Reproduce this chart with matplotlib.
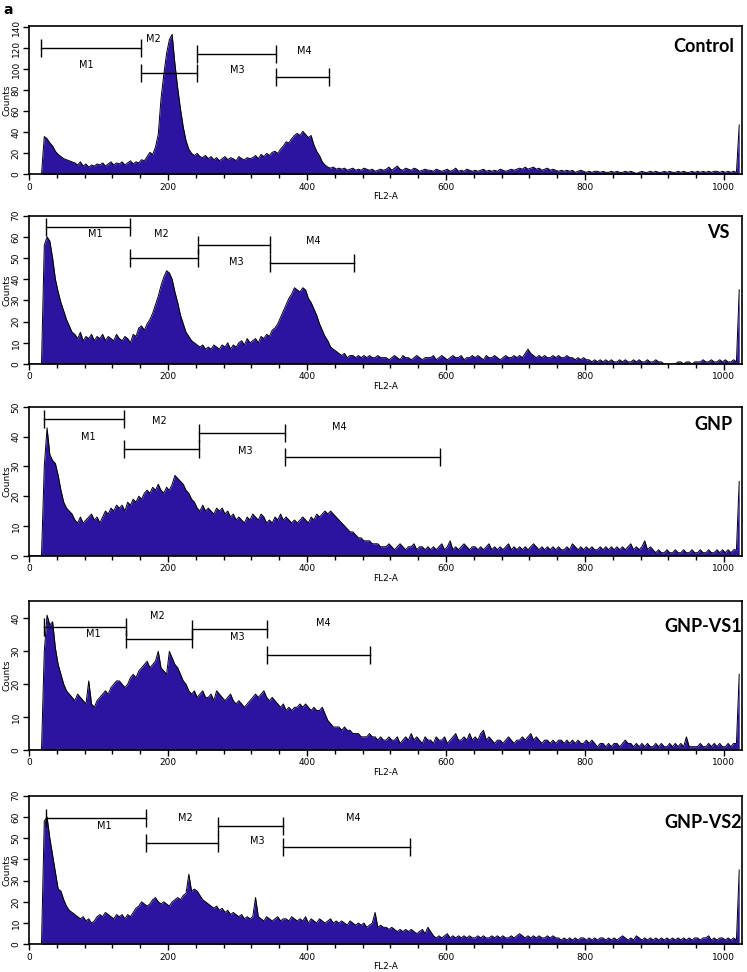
import numpy as np
import matplotlib
matplotlib.use("Agg")
import matplotlib.pyplot as plt
from matplotlib.ticker import MultipleLocator

# FL2-A histograms, 4 channels per bin (0..1023)
bin_width = 4

control_counts = [
    0, 0, 0, 0, 0, 36, 34, 30, 27, 22, 19, 17, 15, 14, 13, 12,
    11, 9, 12, 8, 10, 7, 9, 8, 10, 9, 11, 8, 10, 12, 9, 11,
    10, 12, 9, 11, 13, 10, 12, 11, 14, 13, 17, 21, 19, 26, 38, 72,
    95, 115, 128, 133, 105, 82, 62, 45, 32, 24, 20, 18, 20, 17, 16, 18,
    15, 17, 14, 16, 13, 15, 17, 14, 16, 15, 13, 17, 15, 14, 16, 15,
    16, 18, 15, 19, 17, 20, 18, 21, 22, 20, 24, 27, 31, 30, 34, 37,
    39, 37, 41, 38, 35, 37, 28, 22, 18, 12, 9, 7, 6, 7, 5, 6,
    5, 6, 4, 5, 6, 4, 5, 4, 6, 5, 4, 5, 3, 4, 5, 4,
    5, 7, 4, 6, 8, 5, 4, 6, 5, 4, 6, 5, 3, 4, 5, 4,
    4, 3, 5, 4, 3, 4, 5, 3, 4, 6, 3, 4, 3, 5, 4, 3,
    4, 3, 4, 5, 3, 4, 3, 4, 3, 5, 4, 3, 4, 5, 4, 5,
    6, 5, 7, 5, 6, 7, 5, 6, 4, 5, 6, 4, 5, 4, 3, 4,
    3, 4, 3, 4, 2, 3, 4, 3, 2, 3, 2, 3, 3, 2, 3, 2,
    2, 3, 2, 3, 2, 2, 3, 2, 3, 2, 1, 2, 3, 2, 2, 3,
    2, 3, 2, 2, 3, 2, 3, 2, 2, 3, 2, 3, 2, 2, 3, 2,
    3, 2, 3, 2, 3, 2, 3, 3, 2, 3, 2, 3, 2, 3, 2, 47,
]

vs_counts = [
    0, 0, 0, 0, 0, 56, 60, 58, 50, 40, 34, 29, 25, 21, 18, 15,
    14, 12, 15, 11, 13, 12, 14, 11, 13, 12, 14, 11, 13, 12, 11, 14,
    12, 11, 13, 12, 10, 14, 13, 17, 18, 16, 19, 21, 24, 28, 32, 37,
    41, 44, 43, 40, 34, 29, 23, 19, 15, 13, 11, 10, 9, 8, 9, 7,
    8, 7, 9, 8, 7, 9, 8, 10, 7, 9, 8, 10, 11, 9, 12, 10,
    11, 12, 10, 13, 12, 14, 13, 16, 17, 19, 22, 25, 28, 31, 33, 36,
    35, 34, 36, 35, 31, 29, 26, 23, 19, 16, 13, 11, 8, 7, 6, 5,
    4, 5, 3, 4, 4, 3, 4, 3, 4, 3, 4, 3, 3, 4, 3, 3,
    3, 2, 3, 4, 3, 2, 4, 3, 3, 2, 3, 4, 3, 2, 3, 3,
    3, 4, 2, 3, 4, 3, 2, 3, 4, 3, 3, 4, 2, 3, 3, 4,
    3, 4, 3, 2, 4, 3, 3, 4, 3, 2, 3, 4, 3, 3, 4, 3,
    4, 3, 5, 7, 5, 4, 3, 4, 3, 4, 3, 3, 4, 3, 4, 3,
    3, 4, 3, 3, 2, 3, 2, 3, 2, 2, 1, 2, 1, 2, 1, 2,
    1, 2, 1, 1, 2, 1, 2, 1, 1, 2, 1, 2, 1, 1, 2, 1,
    1, 2, 1, 1, 0, 0, 0, 0, 0, 1, 1, 0, 1, 1, 0, 1,
    1, 1, 2, 1, 1, 2, 1, 1, 2, 1, 2, 1, 1, 2, 1, 35,
]

gnp_counts = [
    0, 0, 0, 0, 0, 30, 43, 34, 32, 31, 27, 22, 18, 16, 15, 14,
    12, 11, 13, 11, 12, 13, 14, 12, 13, 11, 13, 15, 14, 16, 15, 17,
    16, 17, 15, 18, 17, 19, 18, 20, 19, 21, 22, 21, 23, 22, 24, 22,
    21, 23, 22, 24, 27, 26, 25, 24, 22, 21, 19, 18, 16, 15, 17, 15,
    16, 15, 14, 16, 15, 16, 14, 15, 13, 14, 12, 13, 12, 11, 13, 12,
    14, 13, 12, 14, 13, 11, 12, 11, 13, 12, 14, 12, 13, 12, 11, 12,
    11, 12, 13, 12, 11, 13, 12, 14, 13, 14, 15, 14, 15, 14, 13, 12,
    11, 10, 9, 8, 8, 7, 6, 6, 5, 5, 5, 4, 4, 4, 3, 3,
    3, 4, 3, 2, 3, 4, 3, 2, 3, 3, 4, 2, 3, 3, 2, 3,
    2, 3, 2, 3, 4, 2, 3, 5, 2, 3, 2, 3, 4, 3, 2, 3,
    3, 2, 3, 2, 3, 4, 2, 3, 2, 3, 2, 3, 4, 2, 3, 2,
    3, 2, 3, 2, 3, 4, 3, 2, 3, 2, 3, 2, 3, 2, 3, 2,
    2, 3, 2, 4, 3, 2, 3, 2, 3, 2, 3, 2, 2, 3, 2, 3,
    2, 3, 2, 3, 2, 3, 2, 3, 4, 2, 3, 2, 3, 5, 2, 3,
    2, 1, 2, 1, 1, 2, 1, 1, 2, 1, 1, 2, 1, 1, 2, 1,
    1, 2, 1, 1, 2, 1, 1, 2, 1, 2, 1, 2, 1, 2, 2, 25,
]

gnp_vs1_counts = [
    0, 0, 0, 0, 0, 30, 41, 38, 39, 31, 26, 23, 20, 18, 17, 16,
    15, 17, 16, 15, 14, 21, 14, 13, 15, 16, 17, 18, 17, 19, 20, 21,
    21, 20, 19, 20, 22, 23, 22, 24, 25, 26, 27, 25, 26, 27, 30, 25,
    24, 23, 30, 28, 26, 25, 23, 21, 20, 18, 17, 18, 16, 17, 18, 16,
    16, 17, 15, 18, 17, 16, 15, 16, 17, 15, 14, 15, 14, 13, 14, 15,
    16, 17, 16, 17, 18, 16, 15, 16, 15, 14, 13, 14, 12, 13, 12, 13,
    13, 14, 13, 14, 13, 12, 13, 12, 12, 13, 11, 9, 8, 7, 7, 7,
    6, 7, 6, 6, 5, 5, 5, 4, 4, 4, 5, 4, 4, 3, 4, 3,
    3, 4, 3, 3, 4, 2, 3, 4, 3, 5, 3, 4, 3, 2, 4, 3,
    3, 2, 4, 3, 3, 4, 2, 3, 4, 5, 3, 3, 4, 3, 5, 3,
    4, 3, 5, 6, 3, 4, 3, 2, 3, 3, 2, 3, 4, 3, 2, 3,
    3, 4, 3, 4, 5, 3, 4, 3, 2, 3, 3, 2, 3, 2, 3, 3,
    2, 3, 2, 3, 2, 3, 2, 2, 3, 2, 3, 2, 1, 2, 2, 1,
    2, 1, 2, 2, 1, 2, 3, 2, 2, 1, 2, 1, 2, 1, 2, 1,
    1, 2, 1, 2, 1, 1, 2, 1, 2, 1, 2, 1, 4, 1, 1, 1,
    1, 2, 1, 1, 2, 1, 2, 1, 2, 1, 1, 2, 1, 2, 2, 23,
]

gnp_vs2_counts = [
    0, 0, 0, 0, 0, 58, 60, 50, 42, 34, 26, 25, 21, 18, 16, 15,
    14, 13, 12, 13, 11, 12, 10, 11, 13, 14, 13, 15, 14, 13, 12, 14,
    13, 14, 12, 14, 13, 15, 17, 18, 20, 19, 18, 19, 21, 22, 20, 19,
    20, 19, 18, 20, 21, 22, 21, 23, 24, 33, 25, 26, 25, 23, 21, 20,
    19, 18, 17, 18, 16, 17, 15, 16, 14, 15, 14, 13, 14, 12, 13, 12,
    13, 22, 13, 12, 11, 13, 12, 11, 12, 13, 11, 12, 12, 11, 13, 12,
    11, 12, 11, 13, 10, 12, 11, 10, 12, 11, 10, 11, 12, 10, 11, 10,
    11, 10, 9, 11, 10, 9, 10, 9, 10, 8, 9, 10, 15, 8, 9, 8,
    8, 7, 8, 7, 6, 7, 6, 7, 6, 7, 6, 5, 6, 7, 5, 8,
    6, 4, 3, 4, 3, 4, 5, 3, 4, 3, 4, 3, 4, 3, 4, 3,
    3, 4, 3, 4, 3, 3, 4, 3, 4, 3, 4, 3, 3, 4, 3, 4,
    5, 4, 3, 4, 3, 4, 3, 4, 3, 3, 4, 3, 4, 3, 3, 2,
    3, 2, 3, 2, 3, 2, 3, 3, 2, 3, 2, 3, 2, 3, 3, 2,
    3, 2, 3, 2, 3, 4, 3, 2, 3, 2, 4, 3, 2, 3, 2, 3,
    2, 3, 2, 3, 2, 3, 2, 3, 2, 3, 2, 3, 2, 3, 2, 3,
    3, 2, 3, 3, 4, 2, 3, 2, 3, 3, 2, 3, 2, 3, 2, 35,
]

panel_names = ["Control", "VS", "GNP", "GNP-VS1", "GNP-VS2"]
all_counts = [control_counts, vs_counts, gnp_counts, gnp_vs1_counts, gnp_vs2_counts]
y_max = [141, 70, 50, 45.4, 70]
y_step = [20, 10, 10, 10, 10]

# marker gates M1..M4: (start, end, height)
gates = [
    [(17, 161, 120), (161, 242, 96), (242, 355, 114.5), (355, 432, 93)],
    [(24, 145, 64.8), (145, 243, 50), (243, 347, 56.3), (347, 468, 47.7)],
    [(22, 137, 46), (137, 244, 35.9), (244, 368, 41.3), (368, 591, 33.3)],
    [(22, 140, 37.5), (140, 234, 33.8), (234, 342, 36.8), (342, 491, 28.9)],
    [(24, 168, 59.5), (168, 272, 47.6), (272, 365, 55.7), (365, 548, 46)],
]
gate_names = ["M1", "M2", "M3", "M4"]

# label spots for the gate names (data coords)
gate_label_xy = [
    [(82, 104), (179, 129), (300, 99.5), (396, 117)],
    [(95, 61.4), (191, 61.4), (298, 48.3), (409, 58)],
    [(86, 39.8), (187, 45.4), (311, 35.3), (447, 43.4)],
    [(92, 35.3), (185, 40.7), (300, 34.5), (423, 38.7)],
    [(109, 55.7), (225, 59.6), (329, 48.5), (467, 59.4)],
]
title_xy = [(0.989, 0.865), (0.983, 0.885), (0.987, 0.879), (1.0, 0.826), (1.0, 0.818)]
panel_box = [  # left, bottom, width, height (figure fraction)
    (0.0388, 0.8205, 0.9545, 0.1528),
    (0.0388, 0.6255, 0.9545, 0.1526),
    (0.0388, 0.4283, 0.9545, 0.1530),
    (0.0388, 0.2284, 0.9545, 0.1536),
    (0.0388, 0.0285, 0.9545, 0.1529),
]

fill_color = "#2c14a0"

fig = plt.figure(figsize=(7.47, 9.72), dpi=100)

for k in range(5):
    ax = fig.add_axes(panel_box[k])
    counts = np.array(all_counts[k], dtype=float)
    centers = np.arange(len(counts)) * bin_width + bin_width / 2

    # histogram profile drawn as a filled trace through the channel groups
    ax.fill_between(centers, counts, 0, color=fill_color, lw=0, zorder=1)
    ax.plot(centers, counts, color="black", lw=0.7, zorder=2)
    ax.plot([0, centers[0]], [0, 0], color="black", lw=1.2, zorder=2)

    for (g0, g1, gy), gname, (lx, ly) in zip(gates[k], gate_names, gate_label_xy[k]):
        ax.plot([g0, g1], [gy, gy], color="black", lw=1.0, marker="|",
                ms=13.5, mew=1.0, zorder=3)
        ax.text(lx, ly, gname, ha="center", va="center", fontsize=7, zorder=4)

    ax.text(title_xy[k][0], title_xy[k][1], panel_names[k], transform=ax.transAxes,
            ha="right", va="center", fontsize=13, fontweight="bold", family="Lato")

    ax.set_xlim(0, 1026)
    ax.set_ylim(0, y_max[k])
    ax.xaxis.set_major_locator(MultipleLocator(200))
    ax.xaxis.set_minor_locator(MultipleLocator(40))
    ax.yaxis.set_major_locator(MultipleLocator(y_step[k]))
    ax.tick_params(which="major", direction="out", length=4, width=1, labelsize=6.5, pad=2)
    ax.tick_params(which="minor", direction="out", length=3, width=1)
    ax.tick_params(axis="y", labelrotation=90)
    for lbl in ax.get_yticklabels():
        lbl.set_va("center")
    for sp in ax.spines.values():
        sp.set_linewidth(1.2)

    ax.set_xlabel("FL2-A", fontsize=6.5)
    ax.xaxis.set_label_coords(0.5, -0.12)
    ax.set_ylabel("Counts", fontsize=6.5)
    ax.yaxis.set_label_coords(-0.025, 0.5)

fig.text(0.004, 0.997, "a", fontsize=10, fontweight="bold", ha="left", va="top")

fig.savefig("out.png", dpi=100)
